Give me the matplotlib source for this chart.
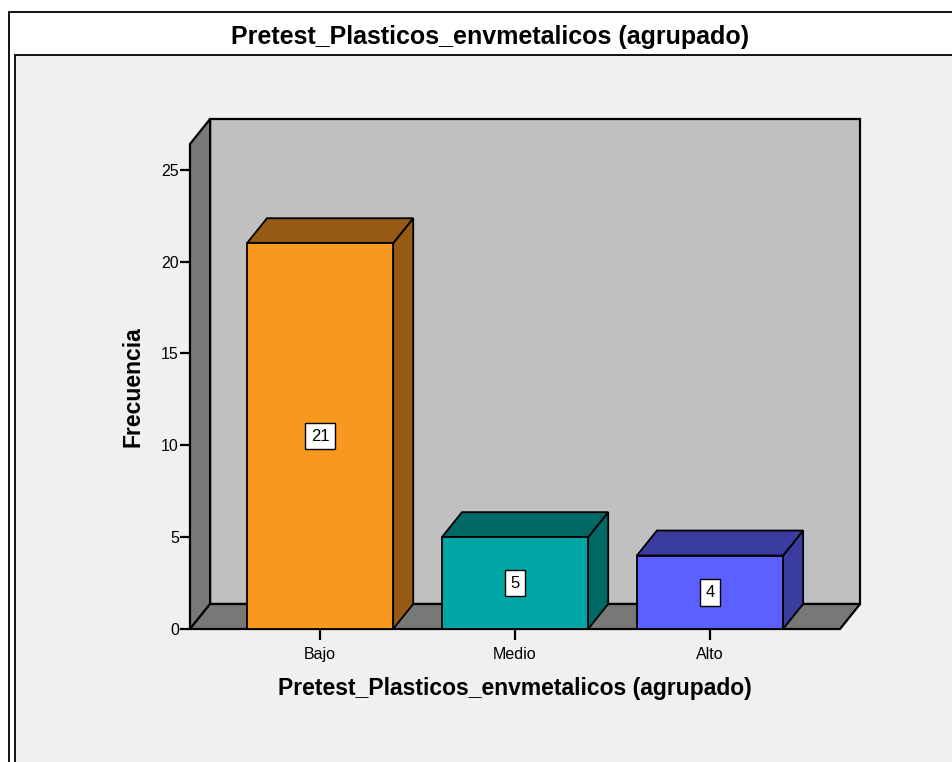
import matplotlib
matplotlib.use("Agg")
import matplotlib.pyplot as plt
from matplotlib.patches import Polygon, Rectangle

plt.rcParams["font.family"] = ["Liberation Sans", "DejaVu Sans"]

TITLE = "Pretest_Plasticos_envmetalicos (agrupado)"
categories = ["Bajo", "Medio", "Alto"]
counts = [21, 5, 4]
y_ticks = [0, 5, 10, 15, 20, 25]

front_colors = ["#F8991F", "#00A6A3", "#5B60FF"]
shade_colors = ["#955A13", "#006865", "#3A3C9E"]

BAR_W = 0.75
DX, DY = 0.103, 1.36          # depth offset of the 3D box, in data units
XMIN, XMAX = -0.667, 2.667
YMAX = 26.4

fig = plt.figure(figsize=(9.53, 7.62), dpi=100)
fig.patch.set_facecolor("white")

# frame: outer box, title band and the grey chart panel
fig.patches.append(Rectangle((9 / 953, -0.1), 1.2, 1 - 12 / 762 + 0.1,
                             transform=fig.transFigure, facecolor="white",
                             edgecolor="black", linewidth=1.3, zorder=-2))
fig.patches.append(Rectangle((15 / 953, -0.1), 1.2, 1 - 55 / 762 + 0.1,
                             transform=fig.transFigure, facecolor="#F0F0F0",
                             edgecolor="black", linewidth=1.3, zorder=-1))
fig.text(490 / 953, 1 - 37 / 762, TITLE, ha="center", va="center",
         fontsize=18, fontweight="bold")

ax = fig.add_axes([190 / 953, 1 - 629 / 762, 650 / 953, 485 / 762])
ax.set_zorder(1)
ax.set_xlim(XMIN, XMAX)
ax.set_ylim(0, YMAX)
ax.patch.set_visible(False)
for s in ax.spines.values():
    s.set_visible(False)

wall_kw = dict(edgecolor="black", linewidth=1.6, clip_on=False, joinstyle="miter")
# back wall
ax.add_patch(Polygon([(XMIN + DX, DY), (XMAX + DX, DY), (XMAX + DX, YMAX + DY),
                      (XMIN + DX, YMAX + DY)], facecolor="#C0C0C0", zorder=1, **wall_kw))
# left wall
ax.add_patch(Polygon([(XMIN, 0), (XMIN + DX, DY), (XMIN + DX, YMAX + DY),
                      (XMIN, YMAX)], facecolor="#787878", zorder=1, **wall_kw))
# floor
ax.add_patch(Polygon([(XMIN, 0), (XMAX, 0), (XMAX + DX, DY), (XMIN + DX, DY)],
                     facecolor="#787878", zorder=1, **wall_kw))

bar_kw = dict(edgecolor="black", linewidth=1.3, clip_on=False, zorder=2)
for i, (v, fc, sc) in enumerate(zip(counts, front_colors, shade_colors)):
    x0, x1 = i - BAR_W / 2, i + BAR_W / 2
    ax.add_patch(Polygon([(x1, 0), (x1 + DX, DY), (x1 + DX, v + DY), (x1, v)],
                         facecolor=sc, **bar_kw))
    ax.add_patch(Polygon([(x0, v), (x1, v), (x1 + DX, v + DY), (x0 + DX, v + DY)],
                         facecolor=sc, **bar_kw))
    ax.add_patch(Polygon([(x0, 0), (x1, 0), (x1, v), (x0, v)],
                         facecolor=fc, **bar_kw))
    ax.text(i, v / 2, str(v), ha="center", va="center", fontsize=12, zorder=3,
            bbox=dict(boxstyle="square,pad=0.35", facecolor="white",
                      edgecolor="black", linewidth=1.0))

ax.set_yticks(y_ticks)
ax.set_xticks(range(len(categories)))
ax.set_xticklabels(categories)
ax.tick_params(axis="y", direction="out", length=7, width=1.6, labelsize=11.5, pad=1)
ax.tick_params(axis="x", direction="out", length=8, width=1.6, labelsize=11.5, pad=5)

ax.set_xlabel(TITLE, fontsize=16.5, fontweight="bold", labelpad=11)
ax.set_ylabel("Frecuencia", fontsize=16.5, fontweight="bold", labelpad=12)

fig.savefig("out.png", dpi=100)
